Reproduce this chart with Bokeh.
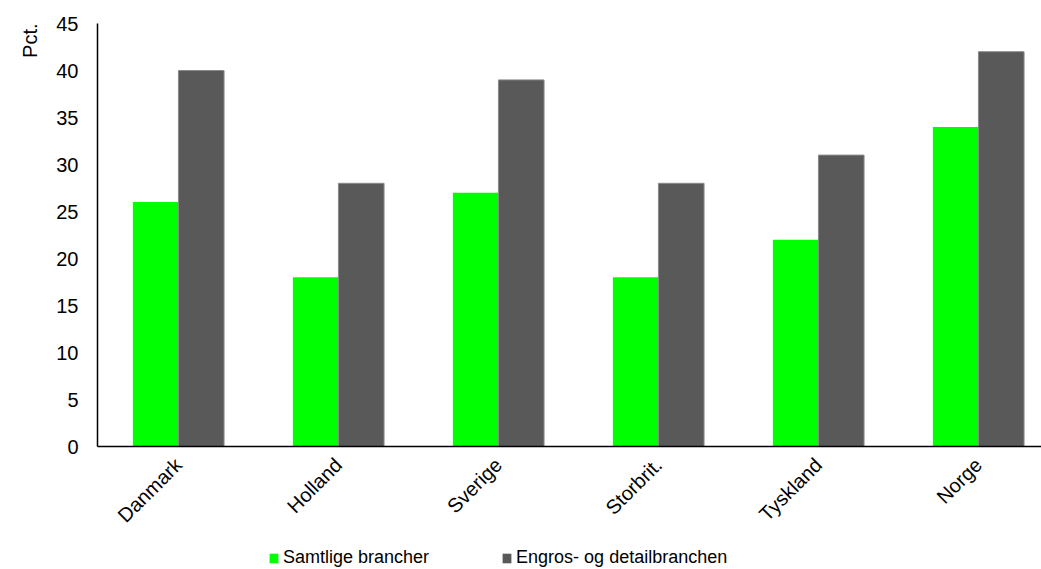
import math
from bokeh.plotting import figure
from bokeh.layouts import column
from bokeh.models import (ColumnDataSource, Range1d, FixedTicker, Legend, LegendItem, Title)
from bokeh.embed import file_html
from bokeh.resources import INLINE

categories = ["Danmark", "Holland", "Sverige", "Storbrit.", "Tyskland", "Norge"]
samtlige = [26, 18, 27, 18, 22, 34]
engros = [40, 28, 39, 28, 31, 42]
series_names = ["Samtlige brancher", "Engros- og detailbranchen"]
y_ticks = [0, 5, 10, 15, 20, 25, 30, 35, 40, 45]

FONT = "Liberation Sans"
GREEN = "#00FF00"
GREY = "#595959"
xs = list(range(len(categories)))
bw = 0.285

src = ColumnDataSource(dict(
    x1=[x - bw / 2 for x in xs], x2=[x + bw / 2 for x in xs],
    a=samtlige, b=engros, cat=categories))

p = figure(width=1041, height=539, output_backend="svg", toolbar_location=None,
           x_range=Range1d(-0.506, 5.394), y_range=Range1d(0, 45),
           min_border_left=97, min_border_right=0, min_border_top=23,
           min_border_bottom=93)
p.outline_line_color = None
p.xgrid.grid_line_color = None
p.ygrid.grid_line_color = None

p.vbar(x="x1", top="a", width=bw, source=src, fill_color=GREEN, line_color=None)
p.vbar(x="x2", top="b", width=bw, source=src, fill_color=GREY,
       line_color="#8a8a8a", line_width=1)

for ax in (p.xaxis[0], p.yaxis[0]):
    ax.axis_line_color = "black"
    ax.axis_line_width = 1.5
    ax.major_tick_line_color = None
    ax.minor_tick_line_color = None
    ax.major_tick_out = 0
    ax.major_tick_in = 0
    ax.major_label_text_font = FONT
    ax.major_label_text_font_size = "20px"
    ax.major_label_text_color = "black"

p.yaxis.ticker = FixedTicker(ticks=y_ticks)
p.yaxis.major_label_standoff = 19
p.xaxis.ticker = FixedTicker(ticks=xs)
p.xaxis.major_label_overrides = {i: c for i, c in enumerate(categories)}
p.xaxis.major_label_orientation = math.pi / 4
p.xaxis.major_label_standoff = 15

p.add_layout(Title(text="Pct.", align="right", vertical_align="top", text_font=FONT,
                   text_font_size="20px", text_font_style="normal",
                   text_color="black", standoff=22), "left")

# legend strip below the chart (its frame is aligned with the chart's frame)
lg = figure(width=1041, height=30, output_backend="svg", toolbar_location=None,
            x_range=Range1d(0, 1), y_range=Range1d(0, 1),
            min_border=0, min_border_left=0, min_border_right=0,
            min_border_top=0, min_border_bottom=0)
lg.axis.visible = False
lg.grid.visible = False
lg.outline_line_color = None
g1 = lg.vbar(x=[5], top=[1], width=0.1, fill_color=GREEN, line_color=None)
g2 = lg.vbar(x=[5], top=[1], width=0.1, fill_color=GREY, line_color=None)

legend = Legend(items=[LegendItem(label=series_names[0], renderers=[g1]),
                       LegendItem(label=series_names[1], renderers=[g2])],
                orientation="horizontal", location=(171, 1),
                label_text_font=FONT, label_text_font_size="18px",
                label_text_color="black",
                glyph_width=11, glyph_height=12, label_standoff=4,
                spacing=72, padding=0, margin=0,
                border_line_color=None, background_fill_alpha=0)
lg.add_layout(legend, "center")

open("out.html", "w").write(file_html(column(p, lg, spacing=0), INLINE))
